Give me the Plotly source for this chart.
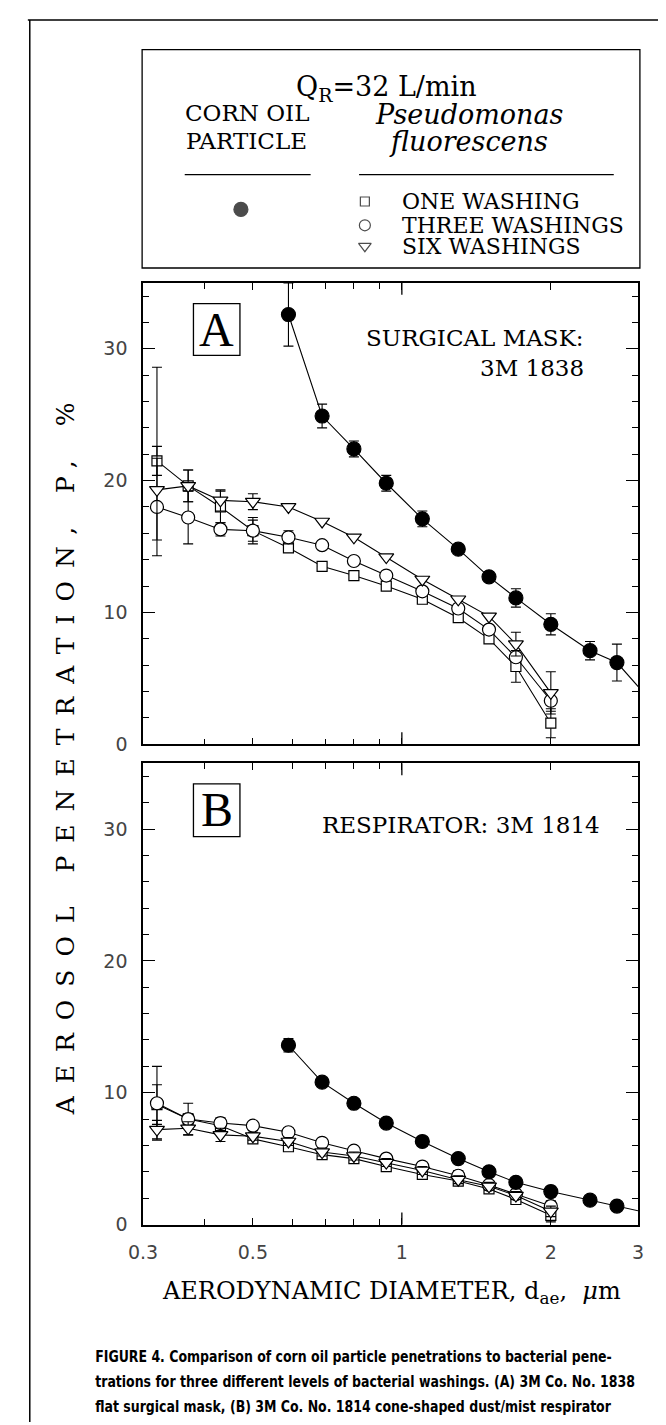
import math
import plotly.graph_objects as go

W, H = 666, 1425

# ---------------- data ----------------
bact_x = [0.32, 0.37, 0.43, 0.50, 0.59, 0.69, 0.80, 0.93, 1.1, 1.3, 1.5, 1.7, 2.0]
oil_x = [0.59, 0.69, 0.80, 0.93, 1.1, 1.3, 1.5, 1.7, 2.0, 2.4, 2.72, 3.2]

# Panel A: surgical mask 3M 1838
A_one = [21.5, 19.6, 18.0, 16.2, 14.9, 13.5, 12.8, 12.0, 11.0, 9.6, 8.0, 5.9, 1.6]
A_one_err = [1.1, 1.2, 1.2, 1.0, 0.3, 0, 0, 0, 0, 0, 0.3, 1.2, 1.1]
A_three = [18.0, 17.2, 16.3, 16.2, 15.7, 15.1, 13.9, 12.8, 11.6, 10.3, 8.7, 6.6, 3.3]
A_three_err = [3.7, 2.0, 0.5, 0.8, 0.5, 0, 0, 0, 0, 0, 0, 0, 0.8]
A_six = [19.3, 19.6, 18.5, 18.4, 18.0, 16.9, 15.7, 14.2, 12.5, 11.0, 9.7, 7.6, 3.9]
A_six_err_plus = [9.3, 1.2, 0.8, 0.6, 0, 0, 0, 0, 0, 0, 0, 0.9, 1.6]
A_six_err_minus = [3.8, 1.2, 0.8, 0.6, 0, 0, 0, 0, 0, 0, 0, 0.9, 1.6]
A_oil = [32.6, 24.9, 22.4, 19.8, 17.1, 14.8, 12.7, 11.1, 9.1, 7.1, 6.2, 3.2]
A_oil_err = [2.4, 0.9, 0.6, 0.6, 0.6, 0.3, 0.3, 0.7, 0.8, 0.7, 1.4, 0]

# Panel B: respirator 3M 1814
B_one = [9.1, 8.0, 7.5, 6.5, 5.9, 5.3, 5.0, 4.4, 3.8, 3.3, 2.7, 1.9, 0.7]
B_one_err = [1.5, 1.2, 0.5, 0.3, 0.3, 0.3, 0.3, 0.2, 0.3, 0.3, 0.3, 0.3, 0.5]
B_three = [9.2, 8.0, 7.7, 7.5, 7.0, 6.2, 5.6, 5.0, 4.4, 3.7, 3.0, 2.3, 1.4]
B_three_err = [2.8, 0.4, 0.4, 0.3, 0.3, 0.3, 0.3, 0.3, 0.3, 0.4, 0.3, 0.3, 0.4]
B_six = [7.2, 7.3, 6.8, 6.7, 6.3, 5.5, 5.2, 4.7, 4.1, 3.4, 2.9, 2.2, 1.0]
B_six_err = [0.7, 0.5, 0.5, 0.3, 0.3, 0.3, 0.3, 0.3, 0.3, 0.3, 0.3, 0.3, 0.4]
B_oil = [13.6, 10.8, 9.2, 7.7, 6.3, 5.0, 4.0, 3.2, 2.5, 1.85, 1.4, 0.82]
B_oil_err = [0.5, 0.3, 0.3, 0.2, 0.2, 0.3, 0.3, 0.3, 0.4, 0.2, 0.2, 0]

x_major = [0.3, 0.5, 1, 2, 3]
x_major_text = ["0.3", "0.5", "1", "2", "3"]
x_minor = [0.4, 0.6, 0.7, 0.8, 0.9]

legend_items = ["ONE WASHING", "THREE WASHINGS", "SIX WASHINGS"]

# ---------------- styles ----------------
SERIF = "DejaVu Serif"
TICKFONT = dict(family="DejaVu Sans", size=19, color="#444")

fig = go.Figure()

def series(x, y, xa, ya, symbol, size, fill, err=None, err_minus=None, name=""):
    ey = None
    if err is not None:
        ey = dict(type="data", array=err, symmetric=err_minus is None,
                  arrayminus=err_minus, color="black", thickness=1.1, width=5)
    fig.add_trace(go.Scatter(
        x=x, y=y, xaxis=xa, yaxis=ya, mode="lines+markers", name=name,
        line=dict(color="black", width=1.1),
        marker=dict(symbol=symbol, size=size, color=fill,
                    line=dict(color="black", width=1.2)),
        error_y=ey, showlegend=False))

# Panel A
series(bact_x, A_one, "x", "y", "square", 10, "white", A_one_err, name="one")
series(bact_x, A_three, "x", "y", "circle", 13, "white", A_three_err, name="three")
series(bact_x, A_six, "x", "y", "triangle-down", 13, "white", A_six_err_plus, A_six_err_minus, name="six")
series(oil_x, A_oil, "x", "y", "circle", 14, "black", A_oil_err, name="oil")
# Panel B
series(bact_x, B_one, "x2", "y2", "square", 10, "white", B_one_err, name="one")
series(bact_x, B_three, "x2", "y2", "circle", 13, "white", B_three_err, name="three")
series(bact_x, B_six, "x2", "y2", "triangle-down", 13, "white", B_six_err, name="six")
series(oil_x, B_oil, "x2", "y2", "circle", 14, "black", B_oil_err, name="oil")

# Legend symbols on a pixel-space overlay axis
leg_sym_x = [225, 353, 353, 353]
leg_sym_y = [203, 195, 219, 240]
fig.add_trace(go.Scatter(
    x=leg_sym_x, y=leg_sym_y, xaxis="x3", yaxis="y3", mode="markers",
    marker=dict(symbol=["circle", "square", "circle", "triangle-down"],
                size=[14, 9, 11, 11], color=["black", "white", "white", "white"],
                line=dict(color="black", width=1.2)),
    showlegend=False, hoverinfo="skip"))

xcommon = dict(type="log", range=[math.log10(0.3), math.log10(3)],
               tickmode="array", tickvals=x_major, ticktext=x_major_text,
               ticks="inside", ticklen=7, tickwidth=1.2, tickcolor="black",
               minor=dict(tickmode="array", tickvals=x_minor, ticks="inside",
                          ticklen=6, tickwidth=1.2, tickcolor="black", showgrid=False),
               showline=True, linewidth=1.5, linecolor="black", mirror="ticks",
               showgrid=False, zeroline=False, tickfont=TICKFONT,
               domain=[124 / W, 635 / W], fixedrange=True)
ycommon = dict(range=[0, 35], tickmode="linear", tick0=0, dtick=10,
               ticks="inside", ticklen=12, tickwidth=1.2, tickcolor="black",
               minor=dict(dtick=2, ticks="inside", ticklen=6, tickwidth=1.2,
                          tickcolor="black", showgrid=False),
               showline=True, linewidth=1.5, linecolor="black", mirror="ticks",
               showgrid=False, zeroline=False, tickfont=TICKFONT,
               ticklabelstandoff=10, fixedrange=True)

fig.update_layout(
    width=W, height=H, margin=dict(l=0, r=0, t=0, b=0),
    paper_bgcolor="white", plot_bgcolor="rgba(0,0,0,0)",
    xaxis=dict(xcommon, anchor="y", showticklabels=False),
    yaxis=dict(ycommon, anchor="x", domain=[1 - 742 / H, 1 - 277 / H]),
    xaxis2=dict(xcommon, anchor="y2", showticklabels=True, ticklabelstandoff=10),
    yaxis2=dict(ycommon, anchor="x2", domain=[1 - 1226 / H, 1 - 761 / H]),
    xaxis3=dict(domain=[0, 1], range=[0, W], visible=False, anchor="y3", fixedrange=True),
    yaxis3=dict(domain=[0, 1], range=[H, 0], visible=False, anchor="x3", fixedrange=True),
)

shapes = []
def line(x0, y0, x1, y1, w=1.3):
    shapes.append(dict(type="line", xref="x3", yref="y3", x0=x0, y0=y0, x1=x1, y1=y1,
                       line=dict(color="black", width=w)))
def rect(x0, y0, x1, y1, w=1.3):
    shapes.append(dict(type="rect", xref="x3", yref="y3", x0=x0, y0=y0, x1=x1, y1=y1,
                       line=dict(color="black", width=w)))

# outer frame (top and left)
line(5, 12, W, 12, 1.5)
line(7, 12, 7, H, 1.5)
# legend box
rect(123, 42, 637, 262)
line(167, 168, 297, 168)
line(347, 168, 610, 168)
# panel letter boxes
rect(176, 298, 224, 350)
rect(176, 782, 224, 835)

# longer ticks at x = 1 (bottom and top of each panel)
for xr, yr in (("x", "y domain"), ("x2", "y2 domain")):
    for anchor, y0, y1 in ((0, 0, 12), (1, 0, -12)):
        shapes.append(dict(type="line", xref=xr, yref=yr, x0=1, x1=1,
                           ysizemode="pixel", yanchor=anchor, y0=y0, y1=y1,
                           line=dict(color="black", width=1.3)))
fig.update_layout(shapes=shapes)

ann = []
def text(x, y, s, size, family=SERIF, xanchor="center", color="black", angle=0, style="normal"):
    ann.append(dict(xref="x3", yref="y3", x=x, y=y, text=s, showarrow=False,
                    xanchor=xanchor, yanchor="middle", textangle=angle,
                    font=dict(family=family, size=size, color=color, style=style)))

text(375, 81, "Q<sub>R</sub>=32 L/min", 27)
text(231, 106, "CORN OIL", 23)
text(231, 134, "PARTICLE", 23)
text(460, 107, "Pseudomonas", 27, style="italic")
text(460, 135, "fluorescens", 27, style="italic")
for s, yy in zip(legend_items, leg_sym_y[1:]):
    text(389, yy, s, 22, xanchor="left")

text(200, 324, "A", 48, family="Liberation Serif")
text(200, 808, "B", 48, family="Liberation Serif")
text(581, 333, "SURGICAL MASK:", 23, xanchor="right")
text(581, 363, "3M 1838", 23, xanchor="right")
text(598, 823, "RESPIRATOR: 3M 1814", 23, xanchor="right")

text(44, 750, "AEROSOL PENETRATION, P, %", 25, angle=-90)
text(381, 1294, "AERODYNAMIC DIAMETER, d<sub>ae</sub>,  <i>μ</i>m", 24)

CAP = "DejaVu Sans Condensed, Liberation Sans Narrow, Roboto, sans-serif"
cap_lines = [
    "<b>FIGURE 4. Comparison of corn oil particle penetrations to bacterial pene-</b>",
    "<b>trations for three different levels of bacterial washings. (A) 3M Co. No. 1838</b>",
    "<b>flat surgical mask, (B) 3M Co. No. 1814 cone-shaped dust/mist respirator</b>",
]
for s, yy in zip(cap_lines, [1359, 1384, 1409]):
    text(72, yy, s, 16, family=CAP, xanchor="left")

fig.update_layout(annotations=ann)

post = """
var gd = document.getElementsByClassName('plotly-graph-div')[0];
function restyleTexts(){
  var ts = gd.querySelectorAll('text.annotation-text');
  ts.forEach(function(t){
    var c = t.textContent;
    if (c.indexOf('AEROSOL') === 0) {
      t.style.letterSpacing = '13px';
    }
    if (c.indexOf('FIGURE 4.') === 0 || c.indexOf('trations for') === 0 ||
        c.indexOf('flat surgical') === 0) {
      t.style.transformBox = 'fill-box';
      t.style.transformOrigin = '0% 50%';
      t.style.transform = 'scaleX(0.87)';
    }
  });
}
restyleTexts();
gd.on('plotly_afterplot', restyleTexts);
"""
fig.write_html("out.html", post_script=post)
